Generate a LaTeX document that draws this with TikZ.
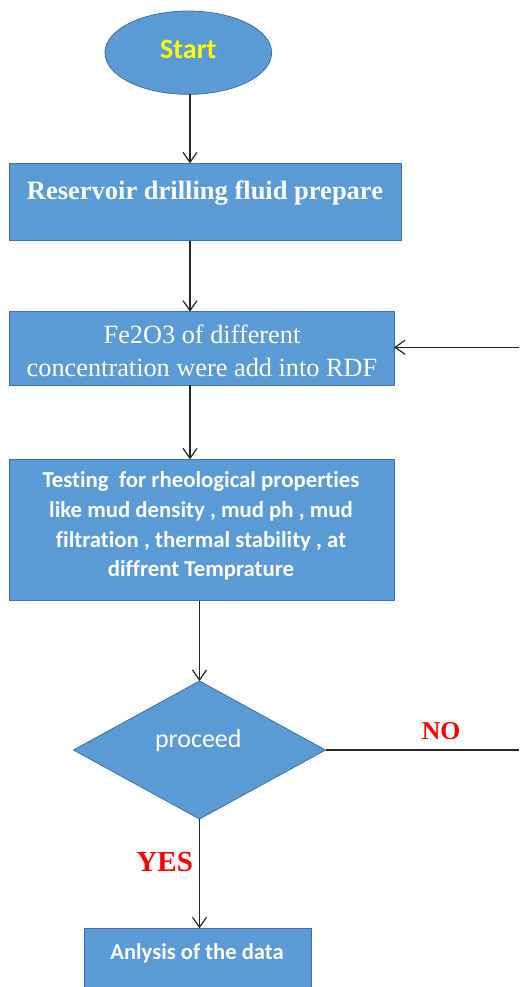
\documentclass[tikz,border=0pt]{standalone}
\usepackage{fontspec}
\setmainfont{Liberation Serif}
\newfontfamily\calfont[Ligatures=NoCommon]{Carlito}
\usetikzlibrary{arrows.meta,shapes.geometric}
\definecolor{boxblue}{HTML}{5B9BD5}
\definecolor{boxedge}{HTML}{41719C}
\definecolor{startyel}{HTML}{FFFF00}
\definecolor{lblred}{HTML}{FF0000}
\begin{document}
\begin{tikzpicture}[x=1pt,y=-1pt,
  shp/.style={draw=boxedge, line width=0.8pt, fill=boxblue, inner sep=0pt, outer sep=0pt},
  boxnode/.style={shp, rectangle},
  txt/.style={anchor=base, inner sep=0pt, text=white},
  conn/.style={draw=black!85, line width=1.2pt},
  arr/.style={conn, -{Straight Barb[length=10pt,width=14pt]}},
  lbl/.style={anchor=base, inner sep=0pt, text=lblred, font=\fontsize{27}{30}\selectfont\bfseries}
]
\useasboundingbox (0,0) rectangle (519,987);
\coordinate (ax) at (190,0);

% shapes
\node[shp, ellipse, minimum width=166.7pt, minimum height=83.3pt] (s) at (188.3,52.7) {};
\node[boxnode, minimum width=392.4pt, minimum height=77.4pt] (b1) at (205.5,202) {};
\node[boxnode, minimum width=384.7pt, minimum height=73.3pt] (b2) at (201.7,348.3) {};
\node[boxnode, minimum width=384.7pt, minimum height=141.4pt] (b3) at (201.7,530) {};
\node[shp, diamond, minimum width=252pt, minimum height=138pt] (d) at (199.5,750) {};
\node[boxnode, minimum width=226.7pt, minimum height=72pt] (b4) at (197.7,964.3) {};

% texts
\node[txt, text=startyel, font=\calfont\bfseries\fontsize{28}{32}\selectfont] (ts) at (188.3,58.3) {Start};
\node[txt, font=\bfseries\fontsize{26.5}{30}\selectfont] (t1) at (205,199.3) {Reservoir drilling fluid prepare};
\node[txt, font=\fontsize{26.3}{30}\selectfont] (t2a) at (202,343.3) {Fe2O3 of different};
\node[txt, font=\fontsize{26.3}{30}\selectfont] (t2b) at (202,376.3) {concentration were add into RDF};
\node[txt, font=\calfont\bfseries\fontsize{22.8}{28}\selectfont] (t3a) at (201,487.7) {Testing\ \ for rheological properties};
\node[txt, font=\calfont\bfseries\fontsize{22.8}{28}\selectfont] (t3b) at (201,517.7) {like mud density , mud ph , mud};
\node[txt, font=\calfont\bfseries\fontsize{22.8}{28}\selectfont] (t3c) at (201,547.3) {filtration , thermal stability , at};
\node[txt, font=\calfont\bfseries\fontsize{22.8}{28}\selectfont] (t3d) at (201,576.7) {diffrent Temprature};
\node[txt, font=\calfont\fontsize{26}{30}\selectfont] (td) at (198.3,747.3) {proceed};
\node[txt, font=\calfont\bfseries\fontsize{22.6}{28}\selectfont] (t4) at (197,959.3) {Anlysis of the data};

% labels
\node[lbl, font=\fontsize{25.7}{30}\selectfont\bfseries] (no) at (441.2,739.3) {NO};
\node[lbl, font=\fontsize{29}{32}\selectfont\bfseries] (yes) at (164.7,871) {YES};

% connectors
\coordinate (r1) at (519,347.3);
\coordinate (r2) at (519,750);
\draw[arr] (s.south -| ax) -- (b1.north -| ax);
\draw[arr] (b1.south -| ax) -- (b2.north -| ax);
\draw[arr] (b2.south -| ax) -- (b3.north -| ax);
\draw[arr] (b3.south -| d.north) -- (d.north);
\draw[arr] (d.south) -- (b4.north -| d.south);
\draw[conn] (d.east) -- (r2);
\draw[arr] (r1) -- (r1 -| b2.east);
\end{tikzpicture}
\end{document}
